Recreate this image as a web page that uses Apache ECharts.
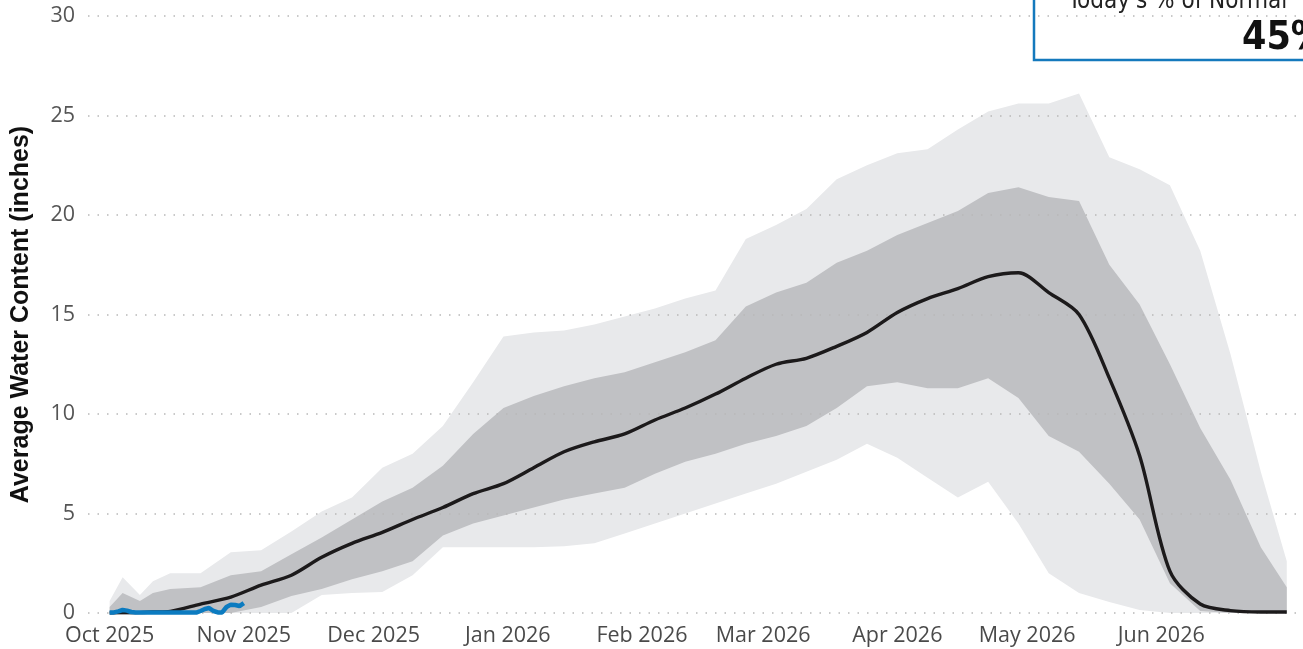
<!DOCTYPE html>
<html>
<head>
<meta charset="utf-8">
<script src="https://cdn.jsdelivr.net/npm/echarts@6/dist/echarts.min.js"></script>
<style>
html, body { margin: 0; padding: 0; background: #fff; }
#chart { width: 1303px; height: 649px; }
</style>
</head>
<body>
<div id="chart"></div>
<script>
// dates of the statistics samples
var statDates = [
	'2025-10-01', '2025-10-04', '2025-10-08', '2025-10-11', '2025-10-15', '2025-10-22', '2025-10-29',
	'2025-11-05', '2025-11-12', '2025-11-19', '2025-11-26', '2025-12-03', '2025-12-10', '2025-12-17',
	'2025-12-24', '2025-12-31', '2026-01-07', '2026-01-14', '2026-01-21', '2026-01-28', '2026-02-04',
	'2026-02-11', '2026-02-18', '2026-02-25', '2026-03-04', '2026-03-11', '2026-03-18', '2026-03-25',
	'2026-04-01', '2026-04-08', '2026-04-15', '2026-04-22', '2026-04-29', '2026-05-06', '2026-05-13',
	'2026-05-20', '2026-05-27', '2026-06-03', '2026-06-10', '2026-06-17', '2026-06-24', '2026-06-30'
];
var minimum = [
	0, 0, 0, 0, 0, 0, 0,
	0, 0, 0.9, 1.0, 1.05, 1.9, 3.3,
	3.3, 3.3, 3.3, 3.35, 3.5, 4.0, 4.5,
	5.0, 5.5, 6.0, 6.5, 7.1, 7.7, 8.5,
	7.8, 6.8, 5.8, 6.6, 4.5, 2.0, 1.0,
	0.55, 0.15, 0, 0, 0, 0, 0
];
var maximum = [
	0.6, 1.8, 0.9, 1.6, 2.0, 2.0, 3.05,
	3.15, 4.1, 5.1, 5.8, 7.3, 8.0, 9.4,
	11.6, 13.9, 14.1, 14.2, 14.5, 14.9, 15.3,
	15.8, 16.2, 18.8, 19.5, 20.3, 21.8, 22.5,
	23.1, 23.3, 24.3, 25.2, 25.6, 25.6, 26.1,
	22.9, 22.3, 21.5, 18.2, 13.0, 7.1, 2.6
];
var pct10 = [
	0, 0, 0, 0, 0, 0, 0,
	0.3, 0.85, 1.2, 1.7, 2.1, 2.6, 3.9,
	4.5, 4.9, 5.3, 5.7, 6.0, 6.3, 7.0,
	7.6, 8.0, 8.5, 8.9, 9.4, 10.3, 11.4,
	11.6, 11.3, 11.3, 11.8, 10.8, 8.9, 8.1,
	6.5, 4.7, 1.5, 0.1, 0, 0, 0
];
var pct90 = [
	0.3, 1.0, 0.6, 1.0, 1.2, 1.3, 1.9,
	2.1, 2.95, 3.8, 4.7, 5.6, 6.3, 7.4,
	9.0, 10.3, 10.9, 11.4, 11.8, 12.1, 12.6,
	13.1, 13.7, 15.4, 16.1, 16.6, 17.6, 18.2,
	19.0, 19.6, 20.2, 21.1, 21.4, 20.9, 20.7,
	17.5, 15.5, 12.5, 9.3, 6.7, 3.3, 1.3
];
var median = [
	0, 0.01, 0.02, 0.05, 0.08, 0.45, 0.8,
	1.4, 1.9, 2.8, 3.5, 4.05, 4.7, 5.3,
	6.0, 6.5, 7.3, 8.1, 8.6, 9.0, 9.7,
	10.3, 11.0, 11.8, 12.5, 12.8, 13.4, 14.1,
	15.1, 15.8, 16.3, 16.9, 17.1, 16.1, 15.0,
	11.8, 7.9, 2.1, 0.45, 0.12, 0.05, 0.05
];

// current water year, daily
var currentDates = [
	'2025-10-01', '2025-10-02', '2025-10-03', '2025-10-04', '2025-10-05', '2025-10-06', '2025-10-07',
	'2025-10-08', '2025-10-09', '2025-10-10', '2025-10-11', '2025-10-12', '2025-10-13', '2025-10-14',
	'2025-10-15', '2025-10-16', '2025-10-17', '2025-10-18', '2025-10-19', '2025-10-20', '2025-10-21',
	'2025-10-22', '2025-10-23', '2025-10-24', '2025-10-25', '2025-10-26', '2025-10-27', '2025-10-28',
	'2025-10-29', '2025-10-30', '2025-10-31', '2025-11-01'
];
var currentValues = [
	0.03, 0.03, 0.08, 0.15, 0.12, 0.05, 0.02,
	0.02, 0.02, 0.02, 0.02, 0.02, 0.02, 0.02,
	0.02, 0.02, 0.02, 0.02, 0.02, 0.02, 0.02,
	0.1, 0.2, 0.25, 0.1, 0.03, 0.03, 0.3,
	0.42, 0.4, 0.35, 0.5
];

var monthTicks = ['2025-10-01', '2025-11-01', '2025-12-01', '2026-01-01', '2026-02-01',
	'2026-03-01', '2026-04-01', '2026-05-01', '2026-06-01'];
var monthNames = ['Jan', 'Feb', 'Mar', 'Apr', 'May', 'Jun', 'Jul', 'Aug', 'Sep', 'Oct', 'Nov', 'Dec'];

var todayPct = '45%';

var myChart = echarts.init(document.getElementById('chart'));

//日期转时间戳
function ts(d) {
	return +new Date(d + 'T00:00:00Z');
}
function pairs(dates, vals) {
	return dates.map(function(d, i) {
		return [ts(d), vals[i]];
	});
}

// 分层面积：由上到下依次覆盖
var bandSeries = function(name, vals, color) {
	return {
		name: name,
		type: 'line',
		data: pairs(statDates, vals),
		symbol: 'none',
		lineStyle: { width: 0 },
		areaStyle: { color: color, opacity: 1 },
		silent: true,
		z: 2
	};
};

var option = {
	animation: false,
	grid: {
		left: 88,
		right: 0,
		top: 16,
		bottom: 36,
		outerBoundsMode: 'none'
	},
	xAxis: {
		type: 'value',
		min: ts('2025-09-26'),
		max: ts('2026-07-03') + 18 * 3600 * 1000,
		axisLine: { show: false },
		axisTick: { show: false },
		splitLine: { show: false },
		axisLabel: {
			customValues: monthTicks.map(ts),
			formatter: function(val) {
				var d = new Date(val);
				return monthNames[d.getUTCMonth()] + ' ' + d.getUTCFullYear();
			},
			color: '#4a4a4a',
			fontSize: 21.5,
			fontFamily: 'Open Sans',
			margin: 12
		}
	},
	yAxis: {
		type: 'value',
		min: 0,
		max: 30,
		interval: 5,
		z: 3,
		name: 'Average Water Content (inches)',
		nameLocation: 'middle',
		nameGap: 54,
		nameTextStyle: {
			fontSize: 25,
			fontWeight: 'bold',
			color: '#111',
			fontFamily: 'Liberation Sans'
		},
		axisLine: { show: false },
		axisTick: { show: false },
		axisLabel: {
			color: '#555',
			fontSize: 21.5,
			fontFamily: 'Open Sans',
			margin: 13
		},
		splitLine: {
			lineStyle: {
				color: '#b8b8b8',
				width: 1.5,
				type: [1.5, 8]
			}
		}
	},
	series: [
		bandSeries('Max', maximum, '#e8e9eb'),
		bandSeries('90%', pct90, '#c0c1c4'),
		bandSeries('10%', pct10, '#e8e9eb'),
		bandSeries('Min', minimum, '#ffffff'),
		{
			name: 'Median',
			type: 'line',
			data: pairs(statDates, median),
			symbol: 'none',
			smooth: 0.3,
			lineStyle: { color: '#1c1a1b', width: 3.4 },
			z: 4
		}, {
			name: 'Current',
			type: 'line',
			data: pairs(currentDates, currentValues),
			symbol: 'none',
			lineStyle: { color: '#0c7bc0', width: 4.5 },
			z: 5
		}
	],
	graphic: [{
		type: 'group',
		z: 100,
		children: [{
			type: 'rect',
			shape: { x: 1034, y: -40, width: 320, height: 100 },
			style: { fill: '#fff', stroke: '#1479bd', lineWidth: 2.5 }
		}, {
			type: 'text',
			x: 1068,
			y: -10,
			style: {
				text: "Today's % of Normal",
				fill: '#222',
				font: '24px "DejaVu Sans Condensed", "Liberation Sans Narrow", sans-serif'
			}
		}, {
			type: 'text',
			x: 1242,
			y: 19,
			style: {
				text: todayPct,
				fill: '#111',
				font: 'bold 39px "DejaVu Sans Condensed", "Liberation Sans Narrow", sans-serif'
			}
		}]
	}]
};

myChart.setOption(option);
</script>
</body>
</html>
